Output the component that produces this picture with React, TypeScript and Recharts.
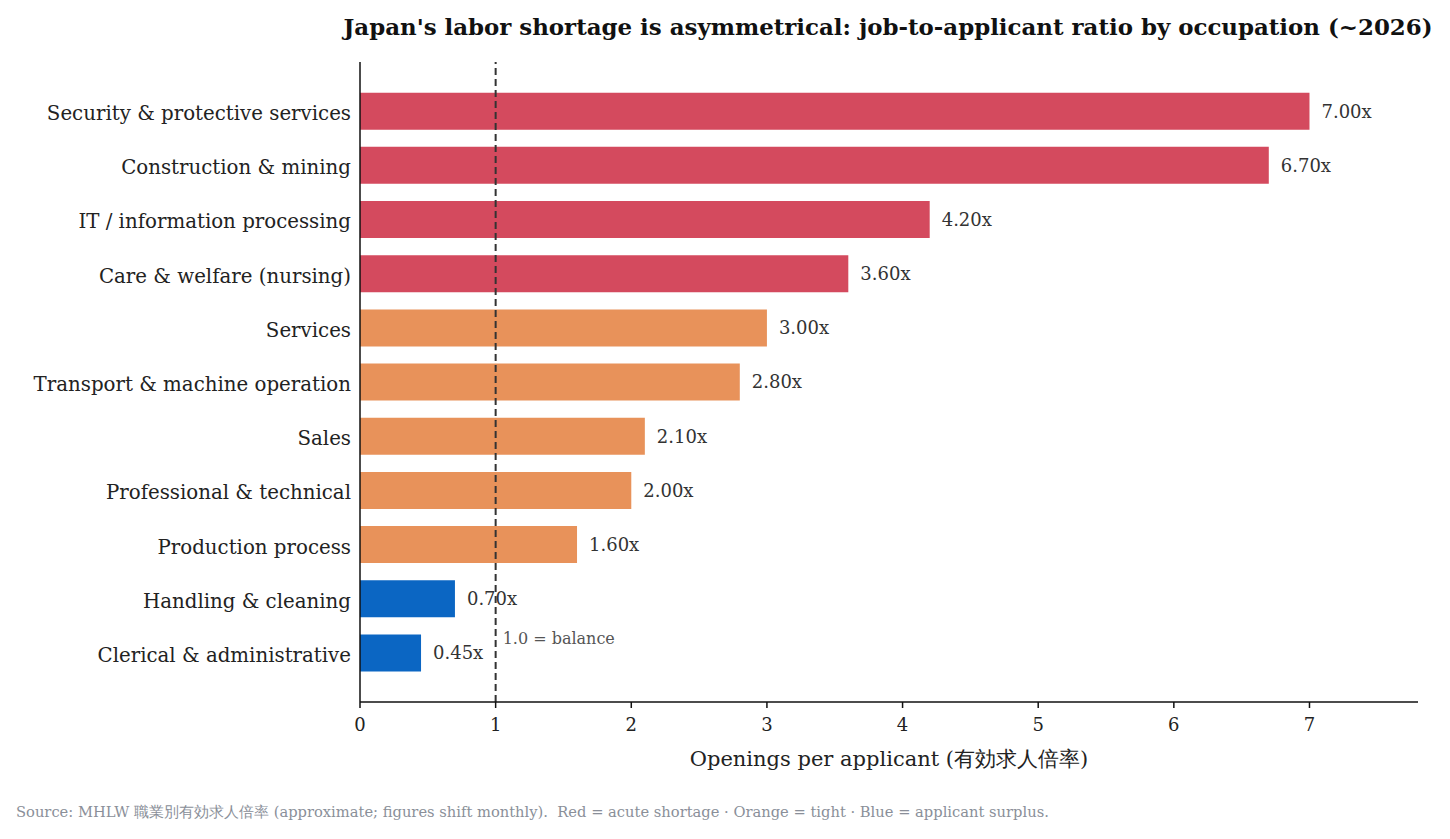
import React from "react";
import {
  BarChart,
  Bar,
  XAxis,
  YAxis,
  Cell,
  LabelList,
  ReferenceLine,
  Label,
} from "recharts";

const categories = [
  "Security & protective services",
  "Construction & mining",
  "IT / information processing",
  "Care & welfare (nursing)",
  "Services",
  "Transport & machine operation",
  "Sales",
  "Professional & technical",
  "Production process",
  "Handling & cleaning",
  "Clerical & administrative",
];
const ratios = [7.0, 6.7, 4.2, 3.6, 3.0, 2.8, 2.1, 2.0, 1.6, 0.7, 0.45];
const groups = ["acute", "acute", "acute", "acute", "tight", "tight", "tight", "tight", "tight", "surplus", "surplus"];
const xTicks = [0, 1, 2, 3, 4, 5, 6, 7];

const groupColors: Record<string, string> = {
  acute: "#d44a5e",
  tight: "#e8925a",
  surplus: "#0b66c3",
};

const data = categories.map((c, i) => ({ name: c, value: ratios[i], group: groups[i] }));

const FONT = "'DejaVu Serif', serif";

export default function App() {
  return (
    <div style={{ position: "absolute", left: 0, top: 0, width: 1450, height: 839, background: "#fff", fontFamily: FONT }}>
      <div
        style={{
          position: "absolute",
          left: 338,
          width: 1100,
          top: 13,
          textAlign: "center",
          fontSize: 22.9,
          fontWeight: "bold",
          color: "#111",
          whiteSpace: "nowrap",
        }}
      >
        Japan's labor shortage is asymmetrical: job-to-applicant ratio by occupation (~2026)
      </div>
      <BarChart
        width={1450}
        height={839}
        data={data}
        layout="vertical"
        margin={{ top: 62, right: 32, bottom: 65, left: 10 }}
        barCategoryGap="16%"
      >
        <XAxis
          type="number"
          domain={[0, 7.8]}
          ticks={xTicks}
          allowDataOverflow
          height={72}
          tick={{ fill: "#222", fontSize: 18, fontFamily: FONT, dy: 8 }}
          tickLine={{ stroke: "#111", strokeWidth: 1.5 }}
          tickSize={6}
          axisLine={{ stroke: "#111", strokeWidth: 1.5 }}
        >
          <Label
            value="Openings per applicant (有効求人倍率)"
            position="insideBottom"
            offset={8}
            style={{ fill: "#222", fontSize: 21, fontFamily: FONT }}
          />
        </XAxis>
        <YAxis
          type="category"
          dataKey="name"
          width={350}
          padding={{ top: 22, bottom: 22 }}
          tickLine={false}
          axisLine={{ stroke: "#111", strokeWidth: 1.5 }}
          tick={{ fill: "#222", fontSize: 19.8, fontFamily: FONT, dy: 2 }}
          tickMargin={3}
          interval={0}
        />
        <Bar dataKey="value" isAnimationActive={false}>
          {data.map((d, i) => (
            <Cell key={i} fill={groupColors[d.group]} />
          ))}
          <LabelList
            dataKey="value"
            position="right"
            offset={12}
            formatter={(v: any) => `${Number(v).toFixed(2)}x`}
            style={{ fill: "#333", fontSize: 18, fontFamily: FONT }}
          />
        </Bar>
        <ReferenceLine
          x={1}
          stroke="#333"
          strokeWidth={2}
          strokeDasharray="7 4"
          ifOverflow="extendDomain"
        >
          <Label
            value="1.0 = balance"
            position="insideBottomLeft"
            offset={0}
            content={(props: any) => {
              const vb = props.viewBox || {};
              return (
                <text x={(vb.x || 0) + 7} y={(vb.y || 0) + (vb.height || 0) - 58} fill="#555" fontSize={16} fontFamily={FONT}>
                  1.0 = balance
                </text>
              );
            }}
          />
        </ReferenceLine>
      </BarChart>
      <div
        style={{
          position: "absolute",
          left: 16,
          top: 803,
          fontSize: 14.7,
          color: "#8a8f99",
          whiteSpace: "pre",
        }}
      >
        {"Source: MHLW 職業別有効求人倍率 (approximate; figures shift monthly).  Red = acute shortage · Orange = tight · Blue = applicant surplus."}
      </div>
    </div>
  );
}
